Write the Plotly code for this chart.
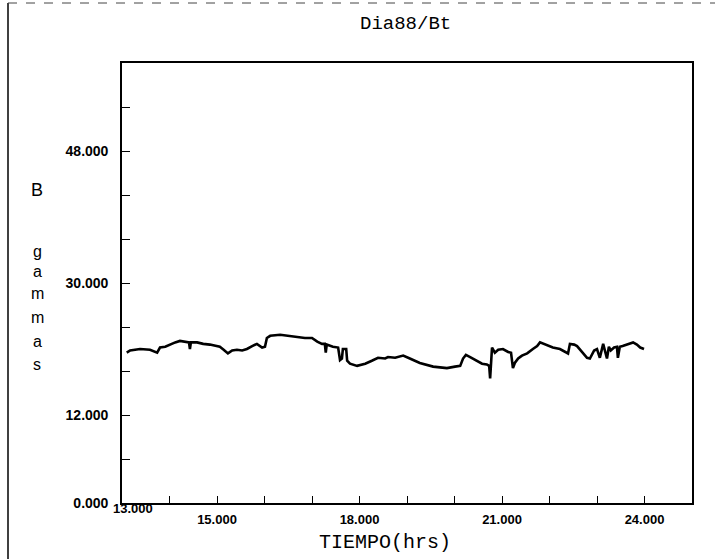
import plotly.graph_objects as go

# ---- data ----
time_hrs = [13.10, 13.17, 13.38, 13.59, 13.74, 13.80, 13.91, 14.01, 14.12, 14.22,
            14.33, 14.41, 14.43, 14.45, 14.58, 14.71, 14.85, 14.96, 15.06, 15.14,
            15.23, 15.32, 15.42, 15.53, 15.63, 15.74, 15.84, 15.95, 16.01, 16.05,
            16.12, 16.33, 16.54, 16.68, 16.85, 17.00, 17.11, 17.21, 17.27, 17.29,
            17.31, 17.44, 17.55, 17.59, 17.63, 17.65, 17.72, 17.74, 17.80, 17.95,
            18.12, 18.26, 18.39, 18.54, 18.60, 18.75, 18.92, 19.06, 19.27, 19.55,
            19.84, 20.01, 20.12, 20.18, 20.24, 20.33, 20.39, 20.49, 20.58, 20.68,
            20.73, 20.75, 20.77, 20.79, 20.85, 20.92, 21.02, 21.13, 21.19, 21.23,
            21.27, 21.34, 21.42, 21.53, 21.65, 21.74, 21.80, 21.88, 21.95, 22.07,
            22.22, 22.39, 22.43, 22.52, 22.58, 22.64, 22.71, 22.79, 22.85, 22.94,
            23.00, 23.06, 23.13, 23.17, 23.21, 23.25, 23.29, 23.36, 23.42, 23.44,
            23.48, 23.54, 23.65, 23.76, 23.84, 23.91, 23.99]
b_gammas = [20.5, 20.8, 21.0, 20.9, 20.5, 21.2, 21.3, 21.6, 21.9, 22.1,
            22.0, 21.9, 21.0, 21.9, 21.9, 21.7, 21.6, 21.4, 21.3, 20.9,
            20.4, 20.8, 20.9, 20.8, 21.0, 21.4, 21.7, 21.2, 21.3, 22.5,
            22.8, 22.95, 22.8, 22.7, 22.5, 22.5, 22.0, 21.7, 21.7, 20.5,
            21.6, 21.3, 21.2, 19.5, 19.7, 21.0, 21.0, 19.4, 19.0, 18.7,
            19.0, 19.4, 19.8, 19.7, 19.9, 19.8, 20.1, 19.7, 19.1, 18.6,
            18.4, 18.6, 18.7, 19.7, 20.2, 19.9, 19.7, 19.3, 19.0, 18.9,
            18.7, 17.0, 19.4, 21.2, 20.5, 20.9, 21.0, 20.6, 20.5, 18.4,
            19.1, 19.7, 20.1, 20.4, 21.0, 21.4, 21.9, 21.7, 21.6, 21.2,
            21.0, 20.4, 21.7, 21.6, 21.4, 20.9, 20.4, 19.8, 19.7, 20.8,
            21.0, 19.8, 21.7, 20.5, 19.7, 21.3, 20.8, 21.2, 21.3, 19.8,
            21.3, 21.4, 21.7, 21.9, 21.6, 21.2, 21.0]

x_tick_values = list(range(13, 25))
x_tick_labels = ["", "", "15.000", "", "", "18.000", "", "", "21.000", "", "", "24.000"]
y_tick_values = list(range(0, 60, 6))
y_tick_labels = ["0.000", "", "12.000", "", "", "30.000", "", "", "48.000", ""]

title_text = "Dia88/Bt"
x_title = "TIEMPO(hrs)"
y_letters = ["B", "g", "a", "m", "m", "a", "s"]

# ---- figure ----
W, H = 715, 559
L, R, T, B = 122, 23, 63, 56
pw, ph = W - L - R, H - T - B

def px_x(px):
    return (px - L) / pw

def px_y(py):
    return (H - B - py) / ph

fig = go.Figure()
fig.add_trace(go.Scatter(x=time_hrs, y=b_gammas, mode="lines",
                         line=dict(color="black", width=2.6), showlegend=False,
                         hoverinfo="skip"))

y_tick_font = dict(family="Liberation Sans, Arial, sans-serif", size=14, color="black",
                   weight="bold")
x_tick_font = dict(family="Liberation Sans, Arial, sans-serif", size=13, color="black",
                   weight="bold")

fig.update_layout(
    width=W, height=H,
    margin=dict(l=L, r=R, t=T, b=B),
    paper_bgcolor="white", plot_bgcolor="white",
    xaxis=dict(range=[13, 25], tickmode="array", tickvals=x_tick_values,
               ticktext=x_tick_labels, ticks="inside", ticklen=7, tickwidth=1.3,
               tickcolor="black", showgrid=False, zeroline=False,
               showline=True, linecolor="black", linewidth=1.6, mirror=True,
               tickfont=x_tick_font, ticklabelstandoff=4),
    yaxis=dict(range=[0, 60], tickmode="array", tickvals=y_tick_values,
               ticktext=y_tick_labels, ticks="inside", ticklen=8, tickwidth=1.3,
               tickcolor="black", showgrid=False, zeroline=False,
               showline=True, linecolor="black", linewidth=1.6, mirror=True,
               tickfont=y_tick_font, ticklabelstandoff=9),
)

annotations = [
    dict(text=title_text, x=px_x(405), y=px_y(24), xref="paper", yref="paper",
         xanchor="center", yanchor="middle", showarrow=False,
         font=dict(family="Liberation Mono, DejaVu Sans Mono, monospace", size=19, color="black")),
    dict(text=x_title, x=px_x(385), y=px_y(542), xref="paper", yref="paper",
         xanchor="center", yanchor="middle", showarrow=False,
         font=dict(family="Liberation Mono, DejaVu Sans Mono, monospace", size=20, color="black")),
    dict(text="13.000", x=px_x(133), y=px_y(508), xref="paper", yref="paper",
         xanchor="center", yanchor="middle", showarrow=False, font=x_tick_font),
]
letter_y = [190, 251, 271, 293, 317, 341, 364]
for ch, yy in zip(y_letters, letter_y):
    annotations.append(dict(text=ch, x=px_x(37), y=px_y(yy), xref="paper", yref="paper",
                            xanchor="center", yanchor="middle", showarrow=False,
                            font=dict(family="Liberation Sans, Arial, sans-serif",
                                      size=18 if ch == "B" else 16, color="black")))
fig.update_layout(annotations=annotations)

# outer scan frame
fig.add_shape(type="line", xref="paper", yref="paper",
              x0=px_x(8), x1=px_x(8), y0=px_y(3), y1=px_y(559),
              line=dict(color="black", width=1.5))
fig.add_shape(type="line", xref="paper", yref="paper",
              x0=px_x(8), x1=px_x(715), y0=px_y(3), y1=px_y(3),
              line=dict(color="#444", width=1, dash="dash"))

fig.write_html("out.html", config={"displayModeBar": False},
               post_script="document.body.style.margin='0';document.body.style.overflow='hidden';")
